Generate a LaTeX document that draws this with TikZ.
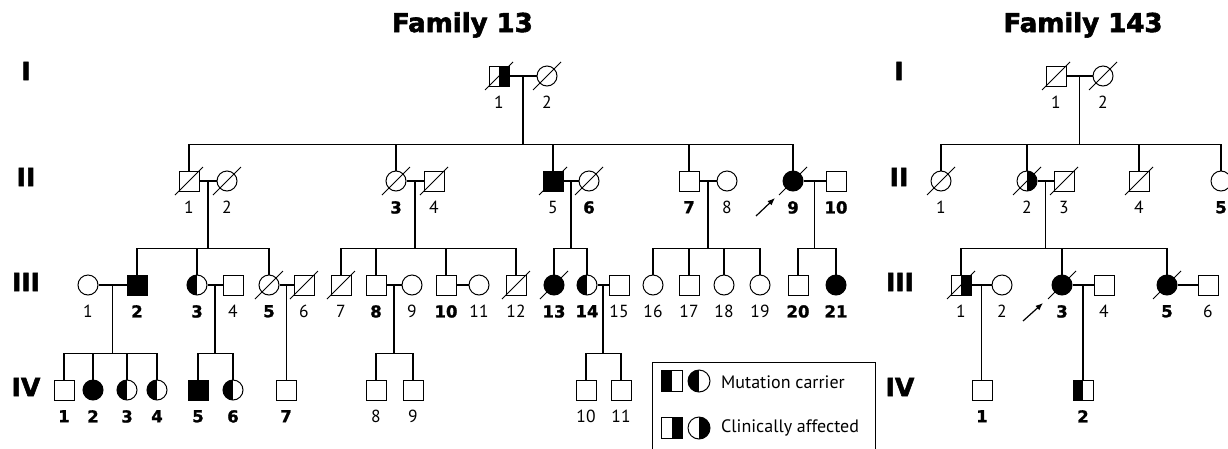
\documentclass[tikz,border=0pt]{standalone}
\usepackage{fontspec}
\setmainfont{PT Sans}
\newfontfamily\heavy[FakeBold=1.4]{DejaVu Sans Bold}
\newfontfamily\heavier[FakeBold=2.2]{DejaVu Sans Bold}
\usetikzlibrary{arrows.meta}
\begin{document}
\begin{tikzpicture}[x=1pt,y=-1pt,
  sym/.style={draw, line width=1pt, inner sep=0pt, minimum size=20pt},
  M/.style={sym, rectangle},
  F/.style={sym, circle},
  aff/.style={fill=black},
  lhalf/.style={path picture={\fill (path picture bounding box.south west) rectangle (path picture bounding box.north);}},
  rhalf/.style={path picture={\fill (path picture bounding box.south) rectangle (path picture bounding box.north east);}},
  lab/.style={font=\fontsize{17.5}{19}\selectfont, inner sep=0pt},
  blab/.style={font=\heavy\fontsize{16.5}{19}\selectfont, inner sep=0pt},
  n/.style={label={[lab]below:#1}},
  bn/.style={label={[blab]below:#1}},
  label distance=9.5pt,
  conn/.style={line width=1.8pt},
  slash/.style={line width=0.9pt},
  gen/.style={font=\heavier\fontsize{25}{27}\selectfont, inner sep=0pt},
  title/.style={font=\heavier\fontsize{26}{28}\selectfont, inner sep=0pt},
  prob/.style={line width=1.2pt, -{Latex[length=7.5pt,width=6pt]}},
  legtext/.style={font=\fontsize{18}{20}\selectfont, inner sep=0pt, anchor=west}
]
\newcommand\dslash[1]{\draw[slash] ([shift={(-14,14)}]#1.center) -- ([shift={(14,-14)}]#1.center);}
\useasboundingbox (0,0) rectangle (1228,448);
\clip (0,0) rectangle (1228,448);

% titles
\node[title, anchor=base east] (t13) at (533,32) {Family 13};
\node[title, anchor=base] (t143) at (1083,32) {Family 143};

% generation labels
\node[gen] (gI) at (26,71) {I};
\node[gen] (gII) at (26,177) {II};
\node[gen] (gIII) at (26,282) {III};
\node[gen] (gIV) at (26,387) {IV};
\node[gen] (hI) at (899,71) {I};
\node[gen] (hII) at (899,177) {II};
\node[gen] (hIII) at (900,282) {III};
\node[gen] (hIV) at (900,387) {IV};

% ================= Family 13 =================
% Gen I
\node[M, rhalf, n=1] (a1) at (499,76) {};
\node[F, n=2] (a2) at (547,76) {};
\dslash{a1}\dslash{a2}
% Gen II
\node[M, n=1] (b1) at (189,181) {};
\node[F, n=2] (b2) at (227,181) {};
\node[F, bn=3] (b3) at (396,181) {};
\node[M, n=4] (b4) at (434,181) {};
\node[M, aff, n=5] (b5) at (553,181) {};
\node[F, bn=6] (b6) at (589,181) {};
\node[M, bn=7] (b7) at (689,181) {};
\node[F, n=8] (b8) at (727,181) {};
\node[F, aff, bn=9] (b9) at (793,181) {};
\node[M, bn=10] (b10) at (836,181) {};
\dslash{b1}\dslash{b2}\dslash{b3}\dslash{b4}\dslash{b5}\dslash{b6}\dslash{b9}
% Gen III
\node[F, n=1] (c1) at (88,285) {};
\node[M, aff, bn=2] (c2) at (137,285) {};
\node[F, lhalf, bn=3] (c3) at (197,285) {};
\node[M, n=4] (c4) at (233,285) {};
\node[F, bn=5] (c5) at (269,285) {};
\node[M, n=6] (c6) at (304,285) {};
\node[M, n=7] (c7) at (341,285) {};
\node[M, bn=8] (c8) at (376,285) {};
\node[F, n=9] (c9) at (412,285) {};
\node[M, bn=10] (c10) at (446,285) {};
\node[F, n=11] (c11) at (479,285) {};
\node[M, n=12] (c12) at (516,285) {};
\node[F, aff, bn=13] (c13) at (554,285) {};
\node[F, lhalf, bn=14] (c14) at (587,285) {};
\node[M, n=15] (c15) at (619,285) {};
\node[F, n=16] (c16) at (653,285) {};
\node[M, n=17] (c17) at (689,285) {};
\node[F, n=18] (c18) at (724,285) {};
\node[F, n=19] (c19) at (760,285) {};
\node[M, bn=20] (c20) at (798,285) {};
\node[F, aff, bn=21] (c21) at (836,285) {};
\dslash{c5}\dslash{c6}\dslash{c7}\dslash{c12}\dslash{c13}
% Gen IV
\node[M, bn=1] (d1) at (64,390) {};
\node[F, aff, bn=2] (d2) at (93,390) {};
\node[F, lhalf, bn=3] (d3) at (127,390) {};
\node[F, lhalf, bn=4] (d4) at (157,390) {};
\node[M, aff, bn=5] (d5) at (198,390) {};
\node[F, lhalf, bn=6] (d6) at (233,390) {};
\node[M, bn=7] (d7) at (286,390) {};
\node[M, n=8] (d8) at (376,390) {};
\node[M, n=9] (d9) at (413,390) {};
\node[M, n=10] (d10) at (586,390) {};
\node[M, n=11] (d11) at (621,390) {};

% marriages
\draw[conn] (a1) -- coordinate (ma) (a2);
\draw[conn] (b1) -- coordinate (mb12) (b2);
\draw[conn] (b3) -- coordinate (mb34) (b4);
\draw[conn] (b5) -- coordinate (mb56) (b6);
\draw[conn] (b7) -- coordinate (mb78) (b8);
\draw[conn] (b9) -- coordinate (mb910) (b10);
\draw[conn] (c1) -- coordinate (mc12) (c2);
\draw[conn] (c3) -- coordinate (mc34) (c4);
\draw[conn] (c5) -- coordinate (mc56) (c6);
\draw[conn] (c8) -- coordinate (mc89) (c9);
\draw[conn] (c10) -- (c11);
\draw[conn] (c14) -- coordinate (mc1415) (c15);

% sibships gen II
\draw[conn] (b1.north) -- ++(0,-26) coordinate (sa) -| (b9.north);
\foreach \c in {b3,b5,b7} \draw[conn] (\c.north) -- ++(0,-26);
\draw[conn] (ma) -- (ma |- sa);
% sibships gen III
\draw[conn] (c2.north) -- ++(0,-26) coordinate (sb12) -| (c5.north);
\draw[conn] (c3.north) -- ++(0,-26);
\draw[conn] (mb12) -- (mb12 |- sb12);
\draw[conn] (c7.north) -- ++(0,-26) coordinate (sb34) -| (c12.north);
\foreach \c in {c8,c10} \draw[conn] (\c.north) -- ++(0,-26);
\draw[conn] (mb34) -- (mb34 |- sb34);
\draw[conn] (c13.north) -- ++(0,-26) coordinate (sb56) -| (c14.north);
\draw[conn] (mb56) -- (mb56 |- sb56);
\draw[conn] (c16.north) -- ++(0,-26) coordinate (sb78) -| (c19.north);
\foreach \c in {c17,c18} \draw[conn] (\c.north) -- ++(0,-26);
\draw[conn] (mb78) -- (mb78 |- sb78);
\draw[conn] (c20.north) -- ++(0,-26) coordinate (sb910) -| (c21.north);
\draw[conn] (mb910) -- (mb910 |- sb910);
% sibships gen IV
\draw[conn] (d1.north) -- ++(0,-26) coordinate (sc12) -| (d4.north);
\foreach \c in {d2,d3} \draw[conn] (\c.north) -- ++(0,-26);
\draw[conn] (mc12) -- (mc12 |- sc12);
\draw[conn] (d5.north) -- ++(0,-26) coordinate (sc34) -| (d6.north);
\draw[conn] (mc34) -- (mc34 |- sc34);
\draw[conn] (mc56) -- (mc56 |- d7.north);
\draw[conn] (d8.north) -- ++(0,-26) coordinate (sc89) -| (d9.north);
\draw[conn] (mc89) -- (mc89 |- sc89);
\draw[conn] (d10.north) -- ++(0,-26) coordinate (sc1415) -| (d11.north);
\draw[conn] (mc1415) -- (mc1415 |- sc1415);

% proband arrow
\coordinate (p13a) at (756,216);
\coordinate (p13b) at (775,198);
\draw[prob] (p13a) -- (p13b);

% legend
\draw[line width=1pt] (652,470) |- (875,362) -- (875,470);
\node[sym, rectangle, minimum size=21pt, lhalf] (lg1) at (672,381) {};
\node[sym, circle, minimum size=22pt, lhalf] (lg2) at (699,381) {};
\node[legtext] (lt1) at (721,382) {Mutation carrier};
\node[sym, rectangle, minimum size=21pt, rhalf] (lg3) at (672,428) {};
\node[sym, circle, minimum size=22pt, rhalf] (lg4) at (699,428) {};
\node[legtext] (lt2) at (721,428) {Clinically affected};

% ================= Family 143 =================
\node[M, n=1] (e1) at (1056,76) {};
\node[F, n=2] (e2) at (1103,76) {};
\dslash{e1}\dslash{e2}
\node[F, n=1] (f1) at (941,181) {};
\node[F, rhalf, n=2] (f2) at (1027,181) {};
\node[M, n=3] (f3) at (1064,181) {};
\node[M, n=4] (f4) at (1139,181) {};
\node[F, bn=5] (f5) at (1221,181) {};
\dslash{f1}\dslash{f2}\dslash{f3}\dslash{f4}
\node[M, rhalf, n=1] (g1) at (961,285) {};
\node[F, n=2] (g2) at (1002,285) {};
\node[F, aff, bn=3] (g3) at (1062,285) {};
\node[M, n=4] (g4) at (1104,285) {};
\node[F, aff, bn=5] (g5) at (1167,285) {};
\node[M, n=6] (g6) at (1208,285) {};
\dslash{g1}\dslash{g3}\dslash{g5}
\node[M, bn=1] (h1) at (982,390) {};
\node[M, lhalf, bn=2] (h2) at (1083,390) {};

\draw[conn] (e1) -- coordinate (me) (e2);
\draw[conn] (f2) -- coordinate (mf) (f3);
\draw[conn] (g1) -- coordinate (mg12) (g2);
\draw[conn] (g3) -- coordinate (mg34) (g4);
\draw[conn] (g5) -- (g6);
\draw[conn] (f1.north) -- ++(0,-26) coordinate (se) -| (f5.north);
\foreach \c in {f2,f4} \draw[conn] (\c.north) -- ++(0,-26);
\draw[conn] (me) -- (me |- se);
\draw[conn] (g1.north) -- ++(0,-26) coordinate (sf) -| (g5.north);
\draw[conn] (g3.north) -- ++(0,-26);
\draw[conn] (mf) -- (mf |- sf);
\draw[conn] (mg12) -- (mg12 |- h1.north);
\draw[conn] (mg34) -- (mg34 |- h2.north);

\coordinate (p143a) at (1023,321);
\coordinate (p143b) at (1043,303);
\draw[prob] (p143a) -- (p143b);
\end{tikzpicture}
\end{document}
